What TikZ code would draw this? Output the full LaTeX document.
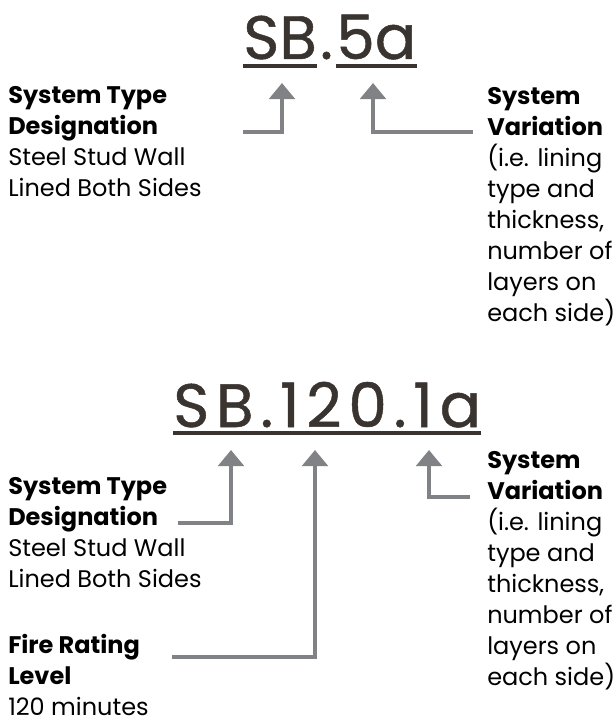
\documentclass[tikz,border=0pt]{standalone}
\usepackage{fontspec}
\setmainfont{Poppins}
\usepackage{tikz}
\usetikzlibrary{arrows.meta, positioning, calc}
\definecolor{codegray}{RGB}{58,52,48}
\definecolor{arrowgray}{RGB}{128,130,133}

\begin{document}
\begin{tikzpicture}[x=0.75pt, y=-0.75pt,
    codetext/.style={font=\fontsize{46}{46}\selectfont\addfontfeature{FakeBold=0.8}, text=codegray, inner sep=0pt, anchor=base west},
    desctext/.style={font=\fontsize{18}{23.25}\selectfont, align=left, inner sep=0pt, anchor=base west},
    pointer/.style={draw=arrowgray, line width=3.5pt, -{Triangle[width=19pt, length=12pt]}},
    ulrule/.style={draw=codegray, line width=3.5pt}]

    \path[use as bounding box] (0,0) rectangle (614,724);

    % Example 1: SB.5a
    \node[codetext] (sb) at (243,59) {SB};
    \node[codetext, right=2pt of sb.base east, anchor=base west] (dot) {.};
    \node[codetext] (var) at (336,59) {5a};
    \draw[ulrule] ($(sb.base west)+(0,7)$) -- ($(sb.base east)+(0,7)$);
    \draw[ulrule] ($(var.base west)+(0,7)$) -- ($(var.base east)+(0,7)$);

    \node[desctext] (typeA) at (8,196) {%
      \textbf{System Type}\\\textbf{Designation}\\Steel Stud Wall\\Lined Both Sides};
    \node[desctext] (varA) at (487,321) {%
      \textbf{System}\\\textbf{Variation}\\(i.e. lining\\type and\\thickness,\\number of\\layers on\\each side)};

    \coordinate (typeAend) at (243,132);
    \coordinate (typeAtip) at (282,83);
    \coordinate (varAend) at (473,132);
    \coordinate (varAtip) at (373,83);
    \draw[pointer] (typeAend) -| (typeAtip);
    \draw[pointer] (varAend) -| (varAtip);

    % Example 2: SB.120.1a
    \node[codetext, font=\fontsize{46}{46}\selectfont\addfontfeature{LetterSpace=11,FakeBold=0.8}] (sbfull) at (173,427) {SB.120.1a};
    \draw[ulrule, line width=3pt] ($(sbfull.base west)+(0,6)$) -- ($(sbfull.base east)+(0,6)$);

    \node[desctext] (typeB) at (8,587) {%
      \textbf{System Type}\\\textbf{Designation}\\Steel Stud Wall\\Lined Both Sides};
    \node[desctext] (fire) at (8,715) {%
      \textbf{Fire Rating}\\\textbf{Level}\\120 minutes};
    \node[desctext] (varB) at (487,685) {%
      \textbf{System}\\\textbf{Variation}\\(i.e. lining\\type and\\thickness,\\number of\\layers on\\each side)};

    \coordinate (typeBend) at (178,523);
    \coordinate (typeBtip) at (231,450);
    \coordinate (fireend) at (172,657);
    \coordinate (firetip) at (315,450);
    \coordinate (varBend) at (470,497);
    \coordinate (varBtip) at (429,450);
    \draw[pointer] (typeBend) -| (typeBtip);
    \draw[pointer] (fireend) -| (firetip);
    \draw[pointer] (varBend) -| (varBtip);

\end{tikzpicture}
\end{document}
